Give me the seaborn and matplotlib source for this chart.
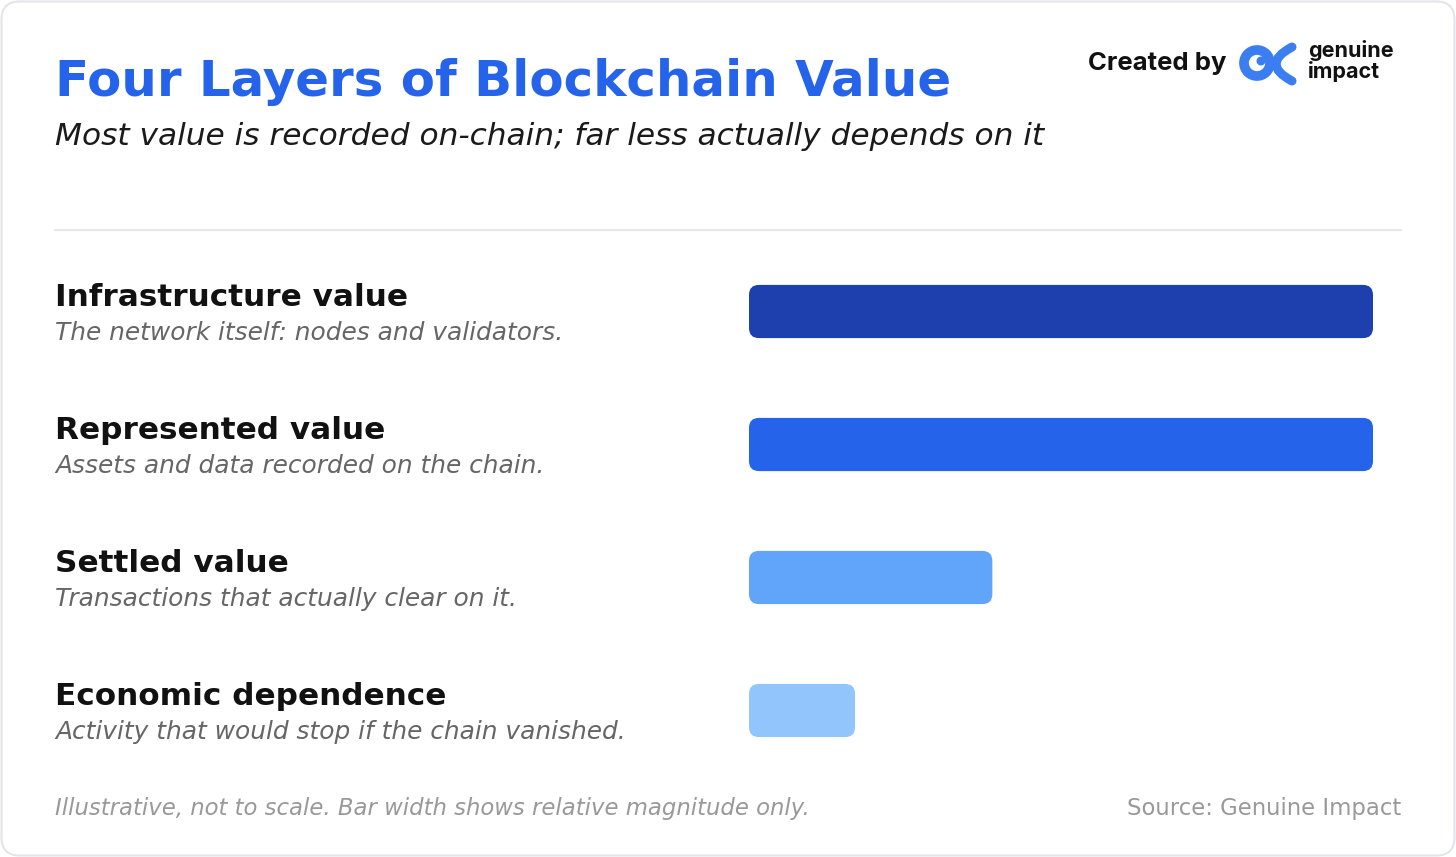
import numpy as np
import matplotlib
matplotlib.use("Agg")
import matplotlib.pyplot as plt
import seaborn as sns
from matplotlib.patches import FancyBboxPatch, Circle
from matplotlib.path import Path
from matplotlib.patches import PathPatch

# data
layers = ["Infrastructure value", "Represented value", "Settled value", "Economic dependence"]
descriptions = [
    "The network itself: nodes and validators.",
    "Assets and data recorded on the chain.",
    "Transactions that actually clear on it.",
    "Activity that would stop if the chain vanished.",
]
magnitude = [100, 100, 39, 17]
bar_colors = ["#1E40AF", "#2563EB", "#60A5FA", "#93C5FD"]

title = "Four Layers of Blockchain Value"
subtitle = "Most value is recorded on-chain; far less actually depends on it"
footnote = "Illustrative, not to scale. Bar width shows relative magnitude only."
source = "Source: Genuine Impact"

W, H = 1456, 857

sns.set_theme(style="white")
plt.rcParams["font.family"] = ["DejaVu Sans"]

fig = plt.figure(figsize=(W / 100, H / 100), dpi=100)
fig.patch.set_facecolor("white")

# background axes in pixel coordinates
bg = fig.add_axes([0, 0, 1, 1], zorder=0)
bg.set_xlim(0, W)
bg.set_ylim(H, 0)
bg.axis("off")

card = FancyBboxPatch((1.5, 1.5), W - 3, H - 3, boxstyle="round,pad=0,rounding_size=18",
                      facecolor="white", edgecolor="#E3E5EA", linewidth=1.5)
bg.add_patch(card)

# header
bg.text(55, 96, title, fontsize=35.9, fontweight="bold", color="#2563EB", va="baseline")
bg.text(55, 145, subtitle, fontsize=22.5, style="italic", color="#1a1a1a", va="baseline")
bg.plot([55, 1401], [230, 230], color="#E5E7EB", linewidth=1.5)

# logo
bg.text(1226, 70, "Created by", fontsize=18.5, fontweight="bold", family="Inter",
        color="#111111", ha="right", va="baseline")
blue = "#3A7EF2"
bg.add_patch(Circle((1257, 63), 13, facecolor="none", edgecolor=blue, linewidth=7))
bg.add_patch(Circle((1261, 61), 4.5, facecolor=blue, edgecolor="none"))
tail = Path([(1292, 47), (1260, 64), (1292, 81)],
            [Path.MOVETO, Path.CURVE3, Path.CURVE3])
bg.add_patch(PathPatch(tail, facecolor="none", edgecolor=blue, linewidth=6.5, capstyle="round"))
bg.text(1308, 57, "genuine", fontsize=15.5, fontweight="bold", family="Inter",
        color="#111111", va="baseline")
bg.text(1308, 78, "impact", fontsize=15.5, fontweight="bold", family="Inter",
        color="#111111", va="baseline")

# row labels
for i, (lab, desc) in enumerate(zip(layers, descriptions)):
    y = 306 + i * 133
    bg.text(55, y, lab, fontsize=22.4, fontweight="bold", color="#111111", va="baseline")
    bg.text(55, y + 34, desc, fontsize=17.9, style="italic", color="#666666", va="baseline")

# footer
bg.text(55, 815, footnote, fontsize=16.4, style="italic", color="#999999", va="baseline")
bg.text(1401, 815, source, fontsize=16.4, color="#999999", ha="right", va="baseline")

# bars
ax = fig.add_axes([749 / W, 1 - 777 / H, 624 / W, 532 / H], zorder=1)
ax.patch.set_alpha(0)
sns.barplot(x=magnitude, y=layers, hue=layers, palette=bar_colors, orient="h",
            width=0.4, saturation=1, legend=False, ax=ax)
ax.set_xlim(0, 100)
ax.set_ylim(3.5, -0.5)
ax.axis("off")

rx = 10 / 6.24
aspect = (10 / 133) / rx
for p in list(ax.patches):
    x0, y0, w, h = p.get_x(), p.get_y(), p.get_width(), p.get_height()
    fc = p.get_facecolor()
    p.remove()
    ax.add_patch(FancyBboxPatch((x0, y0), w, h,
                                boxstyle=f"round,pad=0,rounding_size={rx}",
                                mutation_aspect=aspect, facecolor=fc,
                                edgecolor="none"))

fig.savefig("out.png", dpi=100, facecolor="white")
